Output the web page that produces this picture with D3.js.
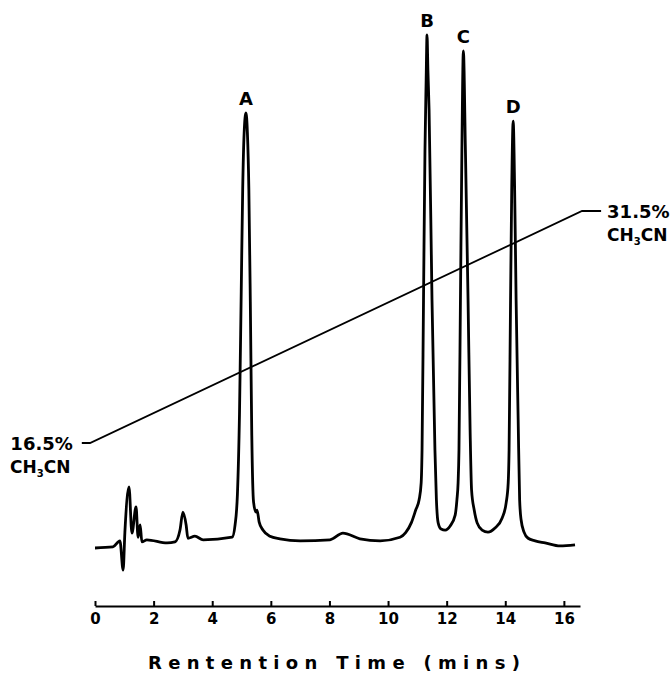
<!DOCTYPE html>
<html>
<head>
<meta charset="utf-8">
<script src="https://cdn.jsdelivr.net/npm/d3@7"></script>
<style>
  body { margin: 0; background: #fff; }
  text { font-family: "DejaVu Sans", "Liberation Sans", Arial, sans-serif; font-weight: bold; fill: #000; }
</style>
</head>
<body>
<div id="chart"></div>
<script>
// retention time (min) and detector signal (relative units, B peak = 100)
const retentionTime = [0, 0.61, 0.85, 0.96, 1.02, 1.16, 1.26, 1.40, 1.47, 1.54, 1.60, 1.77, 2.46, 2.73, 2.90, 3.00, 3.11, 3.17, 3.41, 3.69,
  4.68, 4.78, 4.86, 4.93, 4.99, 5.04, 5.09, 5.15, 5.20, 5.25, 5.30, 5.35, 5.41, 5.49, 5.53, 5.60, 5.73, 5.97, 6.31, 7.00,
  8.02, 8.46, 9.04, 9.73, 10.41, 10.60, 10.80, 10.95, 11.06, 11.13, 11.16, 11.21, 11.26, 11.30, 11.33, 11.36, 11.40, 11.50, 11.60, 11.65,
  11.71, 11.81, 11.95, 12.12, 12.29, 12.35, 12.39, 12.42, 12.47, 12.52, 12.57, 12.64, 12.73, 12.80, 12.85, 12.94, 13.04, 13.21, 13.41, 13.65,
  13.89, 14.03, 14.10, 14.13, 14.18, 14.22, 14.27, 14.32, 14.37, 14.44, 14.49, 14.54, 14.64, 14.78, 15.02, 15.36, 15.87, 16.38];
const signal = [0, 0.2, 1.4, -4.3, 3.1, 11.9, 2.9, 8.0, 2.1, 4.5, 1.2, 1.6, 1.0, 1.2, 3.5, 7.0, 4.5, 1.9, 2.3, 1.6,
  2.1, 4.5, 10.5, 26, 50, 70, 81, 84.8, 81, 70, 48, 22, 9.0, 7.0, 7.4, 5.1, 3.5, 2.3, 1.8, 1.4,
  1.6, 2.9, 1.8, 1.4, 2.1, 3.0, 5.0, 7.5, 9.4, 12.7, 19.1, 48.3, 77.6, 91.2, 100, 93.2, 85.4, 48.3, 19.1, 9.4,
  4.9, 3.7, 3.5, 4.3, 6.4, 9.4, 12.7, 19.1, 48.3, 77.6, 96.9, 77.6, 48.3, 23, 11.3, 7.4, 4.9, 3.5, 3.1, 3.9,
  5.8, 8.8, 12.7, 19.1, 48.3, 69.8, 83.2, 69.8, 48.3, 25, 9.4, 5.5, 3.1, 1.9, 1.4, 1.0, 0.4, 0.6];

// acetonitrile gradient
const gradientTime = [-0.45, -0.17, 16.62, 17.27];
const gradientPercent = [16.5, 16.5, 31.5, 31.5];

const peakNames = ["A", "B", "C", "D"];
const peakTimes = [5.15, 11.33, 12.57, 14.27];
const peakHeights = [84.8, 100, 96.9, 83.2];

const tickValues = [0, 2, 4, 6, 8, 10, 12, 14, 16];
const axisTitle = "Rentention Time (mins)";

const width = 672, height = 674;
const svg = d3.select("#chart").append("svg")
  .attr("width", width).attr("height", height);

const x = d3.scaleLinear().domain([0, 16.55]).range([95, 580]);
const y = d3.scaleLinear().domain([0, 100]).range([548, 35]);
const yPct = d3.scaleLinear().domain([16.5, 31.5]).range([443, 211]);

const trace = retentionTime.map((t, i) => ({ t, v: signal[i] }));
const grad = gradientTime.map((t, i) => ({ t, p: gradientPercent[i] }));

// gradient line
svg.append("path")
  .datum(grad)
  .attr("fill", "none")
  .attr("stroke", "#000")
  .attr("stroke-width", 1.8)
  .attr("d", d3.line().x(d => x(d.t)).y(d => yPct(d.p)));

// chromatogram
svg.append("path")
  .datum(trace)
  .attr("fill", "none")
  .attr("stroke", "#000")
  .attr("stroke-width", 2.8)
  .attr("stroke-linejoin", "round")
  .attr("d", d3.line().x(d => x(d.t)).y(d => y(d.v)).curve(d3.curveMonotoneX));

// peak labels
svg.selectAll("text.peak")
  .data(peakNames)
  .join("text")
  .attr("class", "peak")
  .attr("x", (d, i) => x(peakTimes[i]))
  .attr("y", (d, i) => y(peakHeights[i]) - 8)
  .attr("text-anchor", "middle")
  .style("font-size", "18px")
  .text(d => d);

// gradient labels
function pctLabel(xPos, yPos, anchor, pct, subX) {
  svg.append("text")
    .attr("x", xPos).attr("y", yPos + 7)
    .attr("text-anchor", anchor)
    .style("font-size", "18px")
    .text(pct + "%");
  const t = svg.append("text")
    .attr("x", subX).attr("y", yPos + 30)
    .style("font-size", "17px");
  t.append("tspan").text("CH");
  t.append("tspan").attr("dy", 4).style("font-size", "10px").text("3");
  t.append("tspan").attr("dy", -4).text("CN");
}
pctLabel(x(gradientTime[0]) - 9, yPct(gradientPercent[0]), "end", gradientPercent[0], 10);
pctLabel(x(gradientTime[3]) + 6, yPct(gradientPercent[3]), "start", gradientPercent[3], x(gradientTime[3]) + 6);

// x axis
const axis = svg.append("g")
  .attr("transform", "translate(0,606)")
  .call(d3.axisBottom(x).tickValues(tickValues).tickSizeInner(-5).tickSizeOuter(0).tickPadding(0));
axis.select(".domain").attr("stroke-width", 2);
axis.selectAll(".tick line").attr("stroke-width", 2);
axis.selectAll(".tick text")
  .attr("y", 18).attr("dy", 0)
  .style("font-size", "15px")
  .style("font-family", "'DejaVu Sans', sans-serif")
  .style("font-weight", "bold");

svg.append("text")
  .attr("x", 334).attr("y", 669)
  .attr("text-anchor", "middle")
  .attr("textLength", 372)
  .attr("lengthAdjust", "spacing")
  .style("font-size", "18px")
  .text(axisTitle);
</script>
</body>
</html>
